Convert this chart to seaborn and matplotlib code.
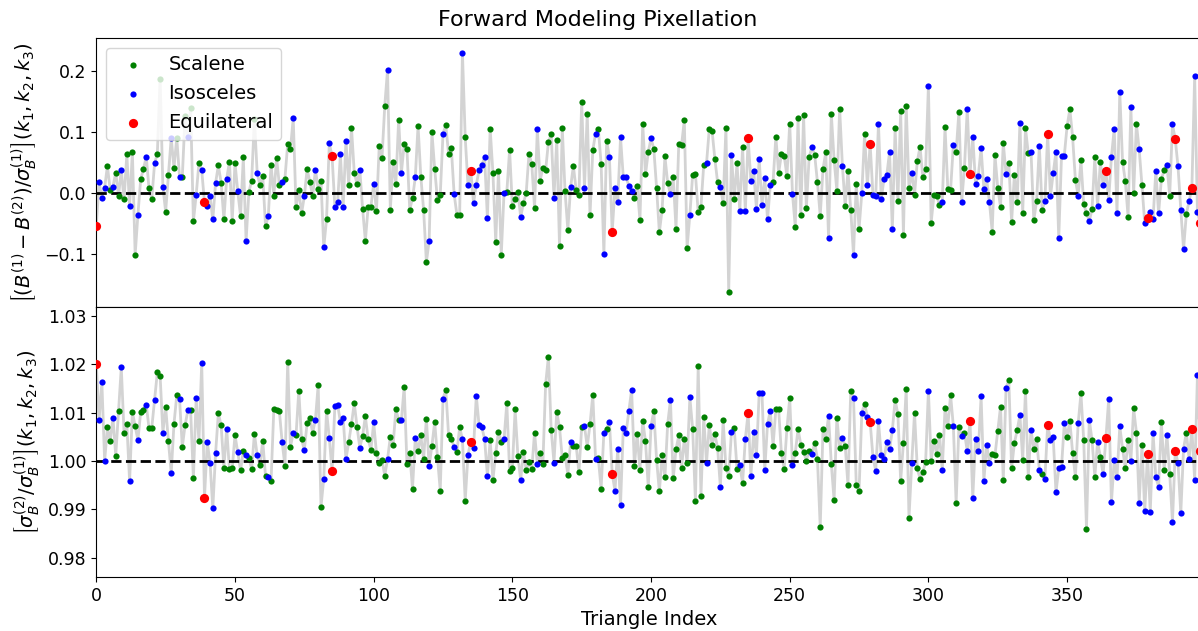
import matplotlib
matplotlib.use("Agg")
import matplotlib.pyplot as plt
import numpy as np
import pandas as pd
import seaborn as sns

# ---------------- data ----------------
# triangle type codes per index (S = scalene, I = isosceles, E = equilateral)
type_segments = [
    "E", "III", "SSI" * 11, "SIE", "IIII", "SSSI", "SSSI", "SSI", "SSSI", "SSSI",
    "SSSSI", "SSSI", "SSSI", "SSSI", "SSI", "SIE", "IIIII", "SSSSI" * 7, "SSSI",
    "SSI", "SIE", "IIIIII", "SSSSSI" * 5, "SSSSI", "SSSI", "SSI", "SIE",
    "IIIIIII", "SSSSSSI" * 3, "SSSSSI", "SSSSI", "SSSI", "SSI", "SIE",
    "IIIIIIII", "SSSSSSSI", "SSSSSSI", "SSSSSI", "SSSSI", "SSSI", "SSI", "SIE",
    "IIIIIIII", "SSSSSSI", "SSSSSI", "SSSSI", "SSSI", "SSI", "SIE",
    "IIIIIII", "SSSSSI", "SSSSI", "SSSI", "SSI", "SIE",
    "IIIIII", "SSSSI", "SSSI", "SSI", "SIE",
    "IIIII", "SSSI", "SSI", "SIE",
    "IIII", "SSI", "SIE", "III", "SIE", "II", "E",
]
type_codes = list("".join(type_segments))
type_names = {"S": "Scalene", "I": "Isosceles", "E": "Equilateral"}

bispec_diff = [
    -0.053, 0.018, -0.008, 0.009, 0.045, 0.005, 0.011, 0.034, -0.004, 0.038,
    -0.010, 0.064, -0.021, 0.068, -0.101, -0.035, 0.023, 0.040, 0.060, 0.008,
    -0.009, 0.049, 0.065, 0.188, 0.010, -0.030, 0.030, 0.091, 0.042, 0.091,
    0.027, 0.027, 0.127, 0.093, 0.140, -0.046, -0.003, 0.050, 0.038, -0.015,
    -0.021, -0.005, -0.043, 0.017, 0.046, 0.017, -0.043, 0.024, 0.052, -0.045,
    0.050, 0.003, -0.037, 0.059, -0.078, 0.002, 0.021, 0.122, 0.033, 0.014,
    0.029, -0.053, -0.038, 0.047, -0.004, 0.058, 0.013, 0.018, 0.024, 0.081,
    0.073, 0.123, -0.023, 0.005, -0.033, -0.005, 0.040, 0.018, -0.004, 0.039,
    0.007, 0.021, -0.089, -0.043, 0.082, 0.061, -0.022, -0.015, 0.064, -0.022,
    0.086, 0.014, 0.108, 0.034, 0.015, 0.039, -0.025, -0.078, -0.023, -0.022,
    0.016, -0.029, 0.077, 0.058, 0.144, 0.203, -0.027, 0.052, 0.016, 0.121,
    0.034, 0.081, 0.072, -0.027, -0.008, 0.026, 0.111, 0.027, -0.027, -0.113,
    -0.078, 0.100, 0.040, -0.011, -0.003, 0.098, 0.112, 0.065, 0.074, -0.001,
    -0.035, -0.035, 0.231, 0.092, 0.013, 0.037, -0.016, 0.014, 0.038, 0.046,
    0.059, -0.041, 0.106, 0.033, -0.080, 0.036, -0.101, 0.001, 0.002, 0.071,
    -0.021, -0.009, 0.002, -0.039, -0.016, 0.001, 0.065, 0.048, -0.024, 0.105,
    0.021, 0.041, 0.038, 0.084, 0.097, -0.007, 0.087, -0.086, 0.107, 0.003,
    -0.060, 0.010, 0.045, 0.005, -0.002, 0.150, 0.009, 0.131, -0.036, 0.071,
    0.098, 0.106, 0.048, -0.100, 0.086, 0.059, -0.063, 0.009, -0.014, 0.092,
    0.026, 0.026, 0.012, 0.004, -0.008, 0.012, -0.044, 0.114, 0.031, 0.068,
    0.090, 0.073, 0.009, -0.064, -0.027, 0.061, 0.017, -0.001, 0.026, -0.058,
    0.081, 0.079, 0.120, -0.090, -0.035, 0.030, 0.032, -0.031, -0.022, 0.047,
    0.049, 0.106, 0.103, 0.057, 0.018, 0.011, -0.016, 0.108, -0.162, 0.063,
    -0.009, 0.049, -0.029, 0.076, -0.029, 0.090, 0.021, 0.037, -0.025, 0.056,
    -0.019, 0.025, -0.043, 0.013, 0.019, 0.093, 0.033, 0.064, 0.062, 0.028,
    0.114, -0.001, -0.055, 0.123, -0.036, 0.128, -0.024, 0.059, 0.076, 0.063,
    0.018, -0.037, 0.040, 0.067, -0.073, 0.130, 0.055, 0.004, 0.139, 0.045,
    -0.021, 0.037, -0.027, -0.101, 0.016, -0.059, 0.001, 0.097, 0.013, 0.081,
    -0.002, -0.005, 0.114, -0.010, 0.024, 0.030, 0.068, -0.059, 0.107, -0.013,
    0.135, -0.068, 0.144, 0.008, 0.034, -0.002, 0.053, 0.076, 0.026, 0.040,
    0.176, -0.048, -0.003, -0.004, -0.019, -0.014, 0.109, 0.007, 0.005, 0.080,
    0.068, 0.134, -0.014, 0.042, 0.138, 0.032, 0.093, 0.016, 0.029, 0.074,
    0.007, 0.023, -0.014, -0.063, 0.063, 0.009, -0.022, 0.083, 0.031, 0.050,
    -0.047, 0.030, -0.014, 0.116, -0.032, 0.107, 0.066, 0.068, -0.044, -0.013,
    0.078, -0.027, -0.013, 0.098, -0.005, 0.033, 0.068, -0.074, 0.062, 0.062,
    0.110, 0.138, 0.092, 0.022, -0.004, 0.054, -0.018, -0.032, -0.046, -0.026,
    0.059, -0.021, 0.052, 0.013, 0.036, -0.011, 0.060, 0.106, -0.032, 0.166,
    0.052, 0.020, -0.039, 0.141, 0.000, 0.114, 0.072, 0.013, -0.049, -0.041,
    -0.031, -0.042, 0.037, -0.033, 0.023, 0.038, 0.047, -0.004, 0.113, 0.089,
    0.044, -0.027, -0.092, -0.034, -0.013, 0.009, 0.193, -0.031, -0.048,
]

sigma_ratio = [
    1.0202, 1.0085, 1.0163, 1.0000, 1.0070, 1.0041, 1.0090, 1.0011, 1.0103, 1.0194,
    1.0058, 1.0077, 0.9958, 1.0102, 1.0072, 1.0043, 1.0102, 1.0106, 1.0117, 1.0068,
    1.0069, 1.0126, 1.0184, 1.0177, 1.0059, 1.0112, 1.0041, 0.9975, 1.0077, 1.0136,
    1.0129, 1.0029, 1.0074, 1.0105, 1.0105, 0.9964, 1.0130, 1.0041, 1.0203, 0.9924,
    1.0039, 0.9997, 0.9902, 1.0016, 1.0099, 1.0074, 0.9986, 1.0067, 0.9983, 0.9985,
    1.0054, 1.0018, 0.9981, 1.0021, 1.0012, 1.0007, 0.9983, 1.0057, 1.0012, 0.9992,
    1.0042, 0.9969, 0.9966, 0.9959, 1.0108, 1.0105, 1.0103, 1.0039, 0.9990, 1.0205,
    1.0029, 1.0059, 1.0053, 1.0146, 1.0045, 1.0023, 1.0079, 1.0089, 1.0059, 1.0086,
    1.0158, 0.9905, 0.9963, 1.0104, 1.0048, 0.9979, 1.0113, 1.0117, 1.0081, 1.0089,
    1.0004, 1.0039, 1.0077, 1.0120, 1.0071, 1.0028, 1.0052, 1.0093, 1.0045, 1.0023,
    1.0080, 1.0017, 0.9997, 1.0002, 0.9970, 1.0004, 1.0050, 1.0033, 1.0107, 1.0085,
    1.0085, 1.0154, 0.9993, 1.0016, 0.9943, 1.0048, 1.0021, 1.0053, 1.0004, 1.0088,
    0.9990, 1.0032, 1.0081, 1.0008, 0.9939, 1.0129, 1.0148, 1.0054, 1.0045, 1.0030,
    1.0019, 1.0070, 1.0045, 0.9918, 1.0013, 1.0040, 1.0027, 1.0135, 1.0074, 1.0070,
    1.0045, 0.9970, 1.0044, 0.9961, 1.0017, 1.0061, 1.0039, 1.0045, 1.0120, 0.9980,
    0.9986, 1.0107, 1.0010, 0.9961, 1.0019, 0.9981, 0.9999, 0.9983, 1.0059, 0.9994,
    1.0017, 0.9994, 1.0160, 1.0216, 1.0065, 0.9997, 1.0101, 1.0070, 1.0006, 1.0013,
    0.9972, 1.0039, 1.0031, 1.0032, 0.9977, 1.0070, 1.0072, 1.0030, 1.0076, 1.0137,
    1.0004, 1.0006, 0.9943, 1.0059, 1.0067, 1.0081, 0.9973, 0.9939, 1.0025, 0.9910,
    1.0068, 1.0059, 1.0103, 1.0148, 0.9990, 1.0057, 0.9981, 1.0084, 1.0041, 0.9946,
    1.0073, 1.0103, 1.0003, 0.9937, 1.0012, 0.9966, 1.0077, 1.0126, 0.9964, 1.0024,
    1.0053, 0.9986, 1.0046, 0.9997, 1.0132, 1.0067, 0.9917, 1.0197, 0.9928, 1.0092,
    0.9996, 1.0074, 1.0034, 1.0056, 1.0027, 0.9946, 1.0085, 0.9985, 0.9970, 1.0061,
    1.0068, 0.9983, 0.9992, 0.9954, 1.0046, 1.0100, 0.9970, 1.0060, 1.0012, 1.0141,
    1.0141, 0.9981, 1.0077, 1.0104, 1.0032, 1.0107, 1.0108, 1.0017, 0.9984, 1.0068,
    1.0130, 0.9992, 1.0017, 1.0066, 1.0034, 1.0019, 1.0001, 1.0021, 1.0014, 1.0038,
    1.0004, 0.9863, 1.0066, 1.0045, 1.0094, 0.9994, 0.9919, 1.0090, 1.0027, 1.0048,
    1.0032, 0.9950, 1.0146, 1.0131, 0.9950, 0.9938, 1.0100, 1.0119, 1.0092, 1.0081,
    1.0009, 0.9980, 1.0082, 1.0012, 1.0004, 1.0039, 1.0024, 1.0064, 1.0127, 1.0097,
    0.9959, 1.0038, 1.0150, 0.9882, 0.9996, 1.0100, 0.9985, 0.9963, 0.9977, 0.9998,
    1.0146, 1.0001, 1.0042, 1.0014, 1.0055, 0.9982, 1.0110, 1.0072, 1.0137, 1.0072,
    0.9913, 1.0071, 1.0051, 1.0059, 1.0021, 1.0083, 0.9924, 1.0046, 1.0020, 1.0134,
    0.9959, 1.0034, 0.9997, 1.0015, 1.0012, 1.0063, 1.0112, 0.9961, 1.0152, 1.0168,
    0.9985, 1.0037, 1.0064, 1.0095, 1.0003, 1.0146, 0.9968, 1.0064, 1.0026, 1.0045,
    0.9982, 0.9973, 0.9963, 1.0075, 1.0044, 1.0049, 0.9935, 0.9985, 0.9988, 1.0078,
    1.0050, 1.0083, 1.0017, 0.9968, 1.0078, 1.0140, 1.0043, 0.9860, 1.0086, 1.0043,
    0.9968, 1.0039, 1.0009, 0.9973, 1.0047, 1.0128, 0.9915, 1.0003, 0.9966, 1.0072,
    1.0026, 0.9985, 1.0044, 1.0001, 1.0109, 1.0059, 0.9914, 1.0034, 0.9896, 1.0014,
    0.9895, 1.0058, 0.9966, 0.9947, 1.0081, 0.9981, 1.0055, 0.9974, 0.9874, 1.0021,
    0.9996, 0.9892, 1.0026, 1.0059, 1.0005, 1.0066, 0.9961, 1.0178, 1.0021,
]

n = min(len(type_codes), len(bispec_diff), len(sigma_ratio))
triangle_index = list(range(n))

df = pd.DataFrame({
    "index": triangle_index,
    "diff": bispec_diff[:n],
    "ratio": sigma_ratio[:n],
    "type": [type_names[c] for c in type_codes[:n]],
})

styles = [("Scalene", "green", 20), ("Isosceles", "blue", 20), ("Equilateral", "red", 44)]

# ---------------- figure ----------------
fig = plt.figure(figsize=(11.98, 6.31), dpi=100)
ax1 = fig.add_axes([0.0804, 0.5127, 0.9226, 0.4271])
ax2 = fig.add_axes([0.0804, 0.0856, 0.9226, 0.4271], sharex=ax1)

for ax, col, ref in [(ax1, "diff", 0.0), (ax2, "ratio", 1.0)]:
    sns.lineplot(data=df, x="index", y=col, color="lightgray", linewidth=2,
                 ax=ax, errorbar=None, sort=False, zorder=1)
    ax.axhline(ref, color="black", linestyle="--", linewidth=2, zorder=2)
    for name, color, size in styles:
        sub = df[df["type"] == name]
        sns.scatterplot(data=sub, x="index", y=col, color=color, s=size,
                        linewidth=0, ax=ax, zorder=3, legend=False,
                        label=name if ax is ax1 else None)

ax1.set_xlim(0, 398.5)
ax1.set_ylim(-0.1875, 0.255)
ax2.set_ylim(0.976, 1.0318)
ax1.set_yticks([-0.1, 0.0, 0.1, 0.2])
ax2.set_yticks([0.98, 0.99, 1.00, 1.01, 1.02, 1.03])
ax2.set_xticks([0, 50, 100, 150, 200, 250, 300, 350])

ax1.set_xlabel("")
plt.setp(ax1.get_xticklabels(), visible=False)
ax1.set_ylabel(r"$\left[(B^{(1)} - B^{(2)})/\sigma_B^{(1)}\right](k_1, k_2, k_3)$", fontsize=14)
ax2.set_ylabel(r"$\left[\sigma_B^{(2)}/\sigma_B^{(1)}\right](k_1, k_2, k_3)$", fontsize=14)
ax2.set_xlabel("Triangle Index", fontsize=14)
for ax in (ax1, ax2):
    ax.tick_params(labelsize=12.5)

if ax2.get_legend() is not None:
    ax2.get_legend().remove()
ax1.legend(loc="upper left", fontsize=14, framealpha=0.8)

fig.text(0.4987, 0.968, "Forward Modeling Pixellation", ha="center", va="center", fontsize=16)

fig.savefig("out.png", dpi=100)
